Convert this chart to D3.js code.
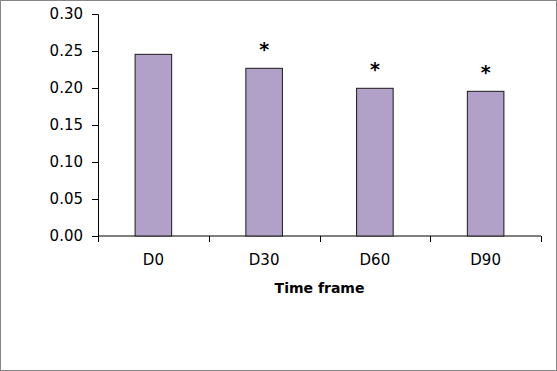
<!DOCTYPE html>
<html>
<head>
<meta charset="utf-8">
<script src="https://cdn.jsdelivr.net/npm/d3@7"></script>
<style>
  body { margin: 0; background: #fff; }
  svg { display: block; }
</style>
</head>
<body>
<div id="chart"></div>
<script>
const categories = ["D0", "D30", "D60", "D90"]
const values = [0.2455, 0.2266, 0.1996, 0.1955]
const marks = ["", "*", "*", "*"]
const yTicks = [0, 0.05, 0.1, 0.15, 0.2, 0.25, 0.3]
const xTitle = "Time frame"

const width = 557
const height = 371
const margin = { top: 14, right: 16, bottom: 135, left: 98 }

const svg = d3.select("#chart")
  .append("svg")
  .attr("width", width)
  .attr("height", height)

// outer frame
svg.append("rect")
  .attr("x", 0.5)
  .attr("y", 0.5)
  .attr("width", width - 1)
  .attr("height", height - 1)
  .attr("fill", "#fff")
  .attr("stroke", "#868686")

const x = d3.scaleBand()
  .domain(categories)
  .range([margin.left, width - margin.right])
  .paddingInner(0.67)
  .paddingOuter(0.335)

const y = d3.scaleLinear()
  .domain([0, 0.3])
  .range([height - margin.bottom, margin.top])

const fontFamily = "'DejaVu Sans', Verdana, sans-serif"

// y axis
const yAxis = svg.append("g")
  .attr("transform", `translate(${margin.left},0)`)
  .call(d3.axisLeft(y).tickValues(yTicks).tickFormat(d3.format(".2f")).tickSizeOuter(0).tickSize(6).tickPadding(9))
yAxis.selectAll("text")
  .attr("font-family", fontFamily)
  .attr("font-size", 15)
  .attr("fill", "#000")

// x axis with ticks between categories
const xAxisG = svg.append("g")
  .attr("transform", `translate(0,${y(0)})`)
xAxisG.append("line")
  .attr("x1", margin.left)
  .attr("x2", width - margin.right)
  .attr("stroke", "#000")
const step = x.step()
const boundaries = d3.range(categories.length + 1).map(i => margin.left + i * step)
xAxisG.selectAll(".tick")
  .data(boundaries)
  .enter()
  .append("line")
  .attr("x1", d => Math.round(d) + 0.5)
  .attr("x2", d => Math.round(d) + 0.5)
  .attr("y1", 0)
  .attr("y2", 6)
  .attr("stroke", "#000")
xAxisG.selectAll(".cat")
  .data(categories)
  .enter()
  .append("text")
  .attr("x", d => x(d) + x.bandwidth() / 2)
  .attr("y", 29)
  .attr("text-anchor", "middle")
  .attr("font-family", fontFamily)
  .attr("font-size", 15)
  .text(d => d)

svg.selectAll(".domain").attr("stroke", "#000")
svg.selectAll(".tick line").attr("stroke", "#000")

// bars
svg.selectAll(".bar")
  .data(categories)
  .enter()
  .append("rect")
  .attr("class", "bar")
  .attr("x", d => x(d))
  .attr("y", (d, i) => y(values[i]))
  .attr("width", x.bandwidth())
  .attr("height", (d, i) => y(0) - y(values[i]))
  .attr("fill", "#b1a0c7")
  .attr("stroke", "#1a1a1a")
  .attr("stroke-width", 1)

// significance marks
svg.selectAll(".mark")
  .data(categories)
  .enter()
  .append("text")
  .attr("x", d => x(d) + x.bandwidth() / 2)
  .attr("y", (d, i) => y(values[i]) - 12)
  .attr("text-anchor", "middle")
  .attr("font-family", fontFamily)
  .attr("font-size", 19)
  .attr("font-weight", "bold")
  .text((d, i) => marks[i])

// axis title
svg.append("text")
  .attr("x", margin.left + (width - margin.right - margin.left) / 2)
  .attr("y", y(0) + 57)
  .attr("text-anchor", "middle")
  .attr("font-family", fontFamily)
  .attr("font-size", 14)
  .attr("font-weight", "bold")
  .text(xTitle)
</script>
</body>
</html>
